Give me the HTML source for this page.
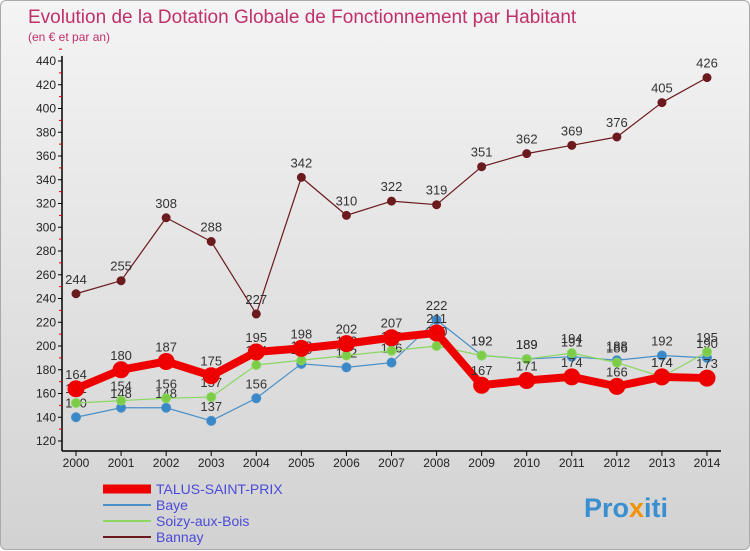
<!DOCTYPE html>
<html><head><meta charset="utf-8"><style>
body{margin:0;width:750px;height:550px;overflow:hidden;font-family:"Liberation Sans",sans-serif}
#wrap{position:absolute;left:0;top:0;width:748px;height:548px;border:1px solid #aaa;border-radius:6px;background:linear-gradient(#f4f4f4,#d2d2d2)}
</style></head><body>
<div id="wrap">
<svg id="chart" width="750" height="550" style="position:absolute;left:0;top:0">
<text x="27" y="22" font-size="19" fill="#c0306a">Evolution de la Dotation Globale de Fonctionnement par Habitant</text>
<text x="27" y="40" font-size="12" fill="#c0306a">(en € et par an)</text>
<g id="axes"></g><g id="series"></g><g id="legend"></g>
<text x="583" y="516" font-size="27" font-weight="bold" fill="#3a8fd0">Pro<tspan fill="#f39200">x</tspan>iti</text>
</svg></div>
<script>
const years=[2000,2001,2002,2003,2004,2005,2006,2007,2008,2009,2010,2011,2012,2013,2014];
const yTicks=[120,140,160,180,200,220,240,260,280,300,320,340,360,380,400,420,440];
const talus=[164,180,187,175,195,198,202,207,211,167,171,174,166,174,173];
const baye=[140,148,148,137,156,185,182,186,222,192,189,191,188,192,190];
const soizy=[152,154,156,157,184,188,192,196,200,192,189,194,186,174,195];
const bannay=[244,255,308,288,227,342,310,322,319,351,362,369,376,405,426];
const NS='http://www.w3.org/2000/svg';
function X(i){return 75+i*(706-75)/14;}
function Y(v){return 440-(v-120)*380/320;}
function mk(t,a,p){const e=document.createElementNS(NS,t);for(const k in a)e.setAttribute(k,a[k]);p.appendChild(e);return e;}
const ax=document.getElementById('axes');
let l=mk('line',{x1:61,y1:55,x2:61,y2:450,stroke:'#000','stroke-width':1.5},ax);

l=mk('line',{x1:61,y1:450,x2:720,y2:450,stroke:'#000','stroke-width':1.5},ax);

yTicks.forEach(v=>{
 mk('line',{x1:57,x2:61,y1:Y(v),y2:Y(v),stroke:'#000'},ax);
 mk('line',{x1:58,x2:61,y1:Y(v+10),y2:Y(v+10),stroke:'#e00'},ax);
 const t=mk('text',{x:55,y:Y(v)+4,'text-anchor':'end','font-size':12,fill:'#222'},ax);t.textContent=v;
 
});
years.forEach((y,i)=>{
 mk('line',{x1:X(i),x2:X(i),y1:450,y2:455,stroke:'#000'},ax);
 const t=mk('text',{x:X(i),y:466,'text-anchor':'middle','font-size':12,fill:'#222'},ax);t.textContent=y;
 
});
const sg=document.getElementById('series');
function series(data,color,w,r,name,dot){
 const g=mk('g',{},sg);
 
 mk('polyline',{points:data.map((v,i)=>X(i)+','+Y(v)).join(' '),fill:'none',stroke:color,'stroke-width':w,'stroke-linejoin':'round'},g);
 data.forEach((v,i)=>{
  const c=mk('circle',{cx:X(i),cy:Y(v),r:r,fill:dot,stroke:color,'stroke-width':1},g);
  
  const t=mk('text',{x:X(i),y:Y(v)-10,'text-anchor':'middle','font-size':13,fill:'#333'},g);t.textContent=v;
  
 });
}
series(bannay,'#6b1a1e',1.2,4,'bannay','#6b1a1e');
series(baye,'#4a90c8',1.2,4.5,'baye','#3a88c8');
series(soizy,'#8ad860',1.2,4.5,'soizy','#7ccc48');
series(talus,'#ee0000',8,8,'talus','#ee0000');
const lg=document.getElementById('legend');
[['TALUS-SAINT-PRIX','#ee0000',9,492],['Baye','#4a90c8',2,508],['Soizy-aux-Bois','#8ad860',2,524],['Bannay','#6b1a1e',2,540]].forEach(d=>{
 const g=mk('g',{},lg);
 mk('line',{x1:102,x2:150,y1:d[3]-4,y2:d[3]-4,stroke:d[1],'stroke-width':d[2]},g);
 const t=mk('text',{x:155,y:d[3]+1,'font-size':14,fill:'#4a4ad8'},g);t.textContent=d[0];
});
</script></body></html>
